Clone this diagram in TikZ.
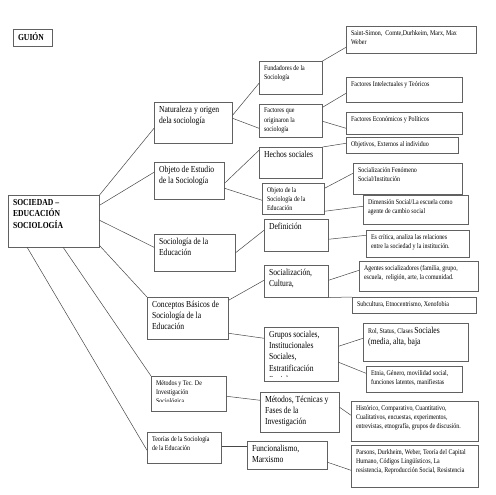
\documentclass[tikz,border=0pt]{standalone}
\usepackage{fontspec}
\setmainfont{Liberation Serif}[FakeStretch=0.83]
\usetikzlibrary{calc}
\newcommand\fS{\fontsize{7.2}{9.3}\selectfont}
\newcommand\fL{\fontsize{9.2}{11.2}\selectfont}
\newcommand\fB{\fontsize{9.2}{11.6}\selectfont\bfseries}
\tikzset{
  box/.style={draw=black!62, line width=0.55pt, anchor=north west, inner sep=0pt},
  txt/.style={draw=none, minimum width=0pt, minimum height=0pt, anchor=north west,
    inner xsep=4.5pt, inner ysep=3.5pt, align=left},
  con/.style={draw=black!72, line width=0.5pt},
}
\newcommand\bx[7]{%
  \node[box, minimum width=#4pt, minimum height=#5pt,
    path picture={\node[txt, font=#6] at (path picture bounding box.north west) {#7};}]
    (#1) at (#2,#3) {};}
% box whose text frame ends #8 pt above the bottom border
\newcommand\bxc[8]{%
  \node[box, minimum width=#4pt, minimum height=#5pt,
    path picture={\clip (path picture bounding box.north west) rectangle ([yshift=#8pt]path picture bounding box.south east);
      \node[txt, font=#6] at (path picture bounding box.north west) {#7};}]
    (#1) at (#2,#3) {};}
\begin{document}
\begin{tikzpicture}[x=1pt,y=-1pt]
\useasboundingbox (0,0) rectangle (495,495);
\bx{guion}{13}{29}{39}{17}{\fB}{GUIÓN}
\bx{soc}{8}{195}{91}{52}{\fB}{SOCIEDAD –\\EDUCACIÓN\\SOCIOLOGÍA}
\bx{nat}{154}{102}{78}{41}{\fL}{Naturaleza y origen\\dela sociología}
\bx{fund}{259}{61}{63}{33}{\fS}{Fundadores de la\\Sociología}
\bx{saint}{346}{26}{130}{27}{\fS}{Saint-Simon,\ \ Comte,Durhkeim, Marx, Max\\Weber}
\bx{fact}{259}{104}{63}{33}{\fS}{Factores que\\originaron la\\sociología}
\bx{intel}{346}{77}{116}{25}{\fS}{Factores Intelectuales y Teóricos}
\bx{econ}{346}{112}{116}{22}{\fS}{Factores Económicos y Políticos}
\bx{obj}{154}{162}{70}{37}{\fL}{Objeto de Estudio\\de la Sociología}
\bx{hechos}{259}{147}{63}{31}{\fL}{Hechos sociales}
\bx{objetivos}{346}{137}{112}{16}{\fS}{Objetivos, Externos al individuo}
\bx{objse}{262}{183}{62}{31}{\fS}{Objeto de la\\Sociología de la\\Educación}
\bx{socfen}{353}{163}{109}{31}{\fS}{Socialización Fenómeno\\Social/Institución}
\bx{dimen}{363}{195}{105}{29}{\fS}{Dimensión Social/La escuela como\\agente de cambio social}
\bx{soced}{154}{234}{81}{37}{\fL}{Sociología de la\\Educación}
\bx{def}{264}{219}{64}{32}{\fL}{Definición}
\bx{critica}{366}{230}{103}{27}{\fS}{Es crítica, analiza las relaciones\\entre la sociedad y la institución.}
\bx{conc}{147}{297}{81}{42}{\fL}{Conceptos Básicos de\\Sociología de la\\Educación}
\bx{social}{264}{265}{64}{32}{\fL}{Socialización,\\Cultura,}
\bx{agentes}{359}{261}{119}{30}{\fS}{Agentes socializadores (familia, grupo,\\escuela,\ \ religión, arte, la comunidad.}
\bx{subcult}{352}{297}{124}{16}{\fS}{Subcultura, Etnocentrismo, Xenofobia}
\bxc{grupos}{264}{327}{74}{54}{\fL}{Grupos sociales,\\Institucionales\\Sociales,\\Estratificación\\Social}{5}
\bx{rol}{363}{323}{105}{38}{\fL}{{\fS Rol, Status, Clases }Sociales\\(media, alta, baja}
\bx{etnia}{366}{366}{96}{26}{\fS}{Etnia, Género, movilidad social,\\funciones latentes, manifiestas}
\bxc{metodos}{151}{376}{75}{35}{\fS}{Métodos y Tec. De\\Investigación\\Sociológica}{9.5}
\bx{mtf}{260}{392}{79}{40}{\fL}{Métodos, Técnicas y\\Fases de la\\Investigación}
\bx{hist}{351}{401}{127}{40}{\fS}{Histórico, Comparativo, Cuantitativo,\\Cualitativos, encuestas, experimentos,\\entrevistas, etnografía, grupos de discusión.}
\bx{teorias}{147}{432}{74}{31}{\fS}{Teorías de la Sociología\\de la Educación}
\bx{func}{247}{441}{80}{28}{\fL}{Funcionalismo,\\Marxismo}
\bx{parsons}{351}{445}{127}{42}{\fS}{Parsons, Durkheim, Weber, Teoría del Capital\\Humano, Códigos Lingüísticos, La\\resistencia, Reproducción Social, Resistencia}
% connectors
\draw[con] (soc.north east) -- ([yshift=-5.5pt]nat.west);
\draw[con] ([yshift=16pt]soc.east) -- ([yshift=8.5pt]obj.west);
\draw[con] ([yshift=1pt]soc.east) -- ([yshift=5.5pt]soced.west);
\draw[con] ([yshift=2pt]soc.south east) -- (conc.north west);
\draw[con] ([xshift=9.5pt]soc.south) -- (metodos.north west);
\draw[con] ([xshift=-26.5pt]soc.south) -- ([yshift=-2.5pt]teorias.west);
\draw[con] ([yshift=7.5pt]nat.east) -- ([yshift=-5.5pt]fund.west);
\draw[con] ([yshift=4.5pt]nat.east) -- ([yshift=-7.5pt]fact.west);
\draw[con] (fund.north east) -- ([yshift=-7.5pt]saint.west);
\draw[con] ([yshift=13.5pt]fact.east) -- ([yshift=-3.5pt]intel.west);
\draw[con] ([yshift=-0.5pt]fact.east) -- ([yshift=-5pt]econ.west);
\draw[con] ([yshift=-2.5pt]obj.east) -- ([yshift=12.5pt]hechos.west);
\draw[con] ([yshift=-7.5pt]obj.east) -- ([yshift=-1.5pt]objse.west);
\draw[con] (hechos.north east) -- ([yshift=2pt]objetivos.west);
\draw[con] ([yshift=10.5pt]objse.east) -- ([yshift=5.5pt]socfen.west);
\draw[con] ([yshift=-12.5pt]objse.east) -- ([yshift=3.5pt]dimen.west);
\draw[con] (soced.east) -- ([yshift=5pt]def.west);
\draw[con] ([yshift=-4pt]def.east) -- ([yshift=8.5pt]critica.west);
\draw[con] ([yshift=18pt]conc.east) -- ([yshift=1pt]social.west);
\draw[con] ([yshift=-15pt]conc.east) -- ([yshift=16pt]grupos.west);
\draw[con] ([yshift=1pt]social.east) -- ([yshift=6pt]agentes.west);
\draw[con] (social.south east) -- (subcult.north west);
\draw[con] ([yshift=8pt]grupos.east) -- ([yshift=4pt]rol.west);
\draw[con] ([yshift=-8pt]grupos.east) -- ([yshift=6pt]etnia.west);
\draw[con] ([yshift=-2.5pt]metodos.east) -- ([yshift=12pt]mtf.west);
\draw[con] ([yshift=5pt]mtf.east) -- ([yshift=6pt]hist.west);
\draw[con] ([yshift=1.5pt]teorias.east) -- ([yshift=9pt]func.west);
\draw[con] ([yshift=-7pt]func.east) -- ([yshift=-4pt]parsons.west);
\end{tikzpicture}
\end{document}
